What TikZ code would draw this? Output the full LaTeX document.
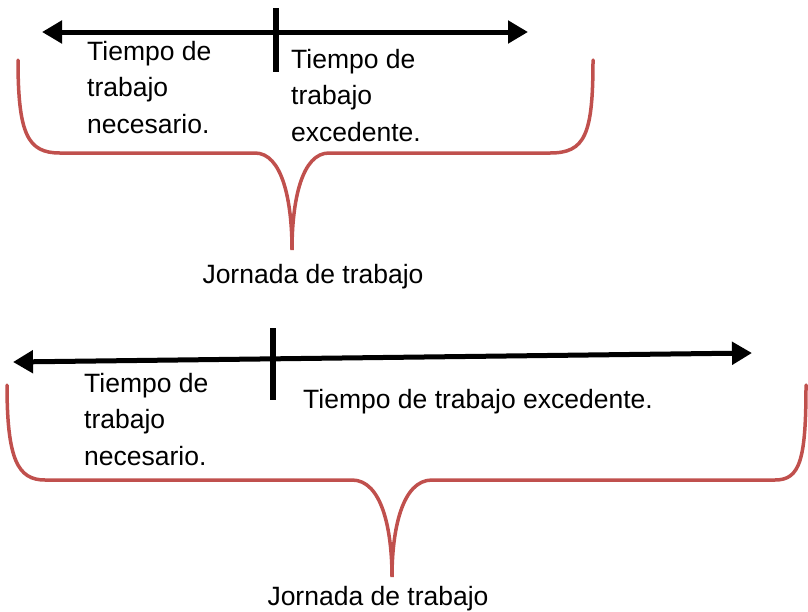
\documentclass[tikz,border=0pt]{standalone}
\usepackage{fontspec}
\setmainfont{Liberation Sans}
\usetikzlibrary{arrows.meta, positioning}
\definecolor{llaverojo}{HTML}{C0504D}

\begin{document}
\begin{tikzpicture}[x=1pt, y=-1pt,
    eje/.style={line width=5pt, {Triangle[length=20pt,width=22pt]}-{Triangle[length=20pt,width=22pt]}},
    marca/.style={line width=6pt},
    llave/.style={draw=llaverojo, line width=3.5pt, line cap=round},
    texto/.style={font=\fontsize{26.5}{36.5}\selectfont, align=left, inner sep=0pt, anchor=base west}]
    \useasboundingbox (0,0) rectangle (808,611);

    % primera jornada
    \coordinate (izq1) at (42, 32);
    \coordinate (der1) at (528, 32);
    \coordinate (arr1) at (276, 8);
    \coordinate (aba1) at (276, 72);
    \coordinate (punta1) at (292, 250);
    \node[texto] (nec1) at (87, 133) {Tiempo de\\trabajo\\necesario.}; % necesario
    \node[texto] (exc1) at (291, 141) {Tiempo de\\trabajo\\excedente.}; % excedente
    \node[texto, anchor=base] (jor1) at (313, 283) {Jornada de trabajo}; % jornada

    \draw[eje] (izq1) -- (der1);
    \draw[marca] (arr1) -- (aba1);
    \draw[llave]
        (18, 60) .. controls (18, 135) and (28, 153) .. (60, 153)
        -- (255, 153) .. controls (282, 153) and (292, 200) .. (punta1)
        .. controls (292, 200) and (302, 153) .. (329, 153)
        -- (550, 153) .. controls (585, 153) and (593, 135) .. (593, 60);

    % segunda jornada
    \coordinate (izq2) at (13, 362);
    \coordinate (der2) at (752, 353);
    \coordinate (arr2) at (273, 328);
    \coordinate (aba2) at (273, 400);
    \coordinate (punta2) at (392, 577);
    \node[texto] (nec2) at (84, 465) {Tiempo de\\trabajo\\necesario.}; % necesario
    \node[texto] (exc2) at (303, 408) {Tiempo de trabajo excedente.}; % excedente
    \node[texto, anchor=base] (jor2) at (378, 605) {Jornada de trabajo}; % jornada

    \draw[eje] (izq2) -- (der2);
    \draw[marca] (arr2) -- (aba2);
    \draw[llave]
        (7, 385) .. controls (7, 460) and (18, 480) .. (45, 480)
        -- (352, 480) .. controls (382, 480) and (392, 530) .. (punta2)
        .. controls (392, 530) and (402, 480) .. (432, 480)
        -- (775, 480) .. controls (800, 480) and (806, 460) .. (806, 385);
\end{tikzpicture}
\end{document}
